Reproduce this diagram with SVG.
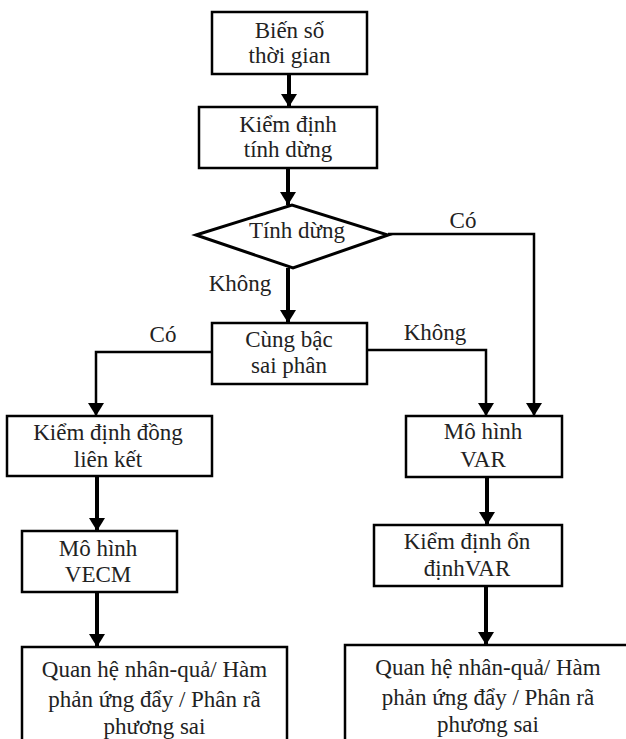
<svg xmlns="http://www.w3.org/2000/svg" width="626" height="739" viewBox="0 0 626 739">
<style>
.box{fill:#fff;stroke:#000;stroke-width:2.5}
.t{font-family:"Liberation Serif",Tinos,"Times New Roman","DejaVu Serif","Noto Serif",serif;font-size:23px;fill:#222;text-anchor:middle}
.c{fill:none;stroke:#000;stroke-width:4}
.c2{fill:none;stroke:#000;stroke-width:2.5}
</style>
<defs>
<marker id="ah" viewBox="0 -9 14 18" refX="13" refY="0" markerWidth="14" markerHeight="18" markerUnits="userSpaceOnUse" orient="auto">
<path d="M0,-8 L13,0 L0,8 z" fill="#000"/>
</marker>
</defs>
<rect width="626" height="739" fill="#fff"/>
<g id="connectors">
<path class="c" d="M289,74 V107" marker-end="url(#ah)"/>
<path class="c" d="M288,168 V205" marker-end="url(#ah)"/>
<path class="c" d="M288,268 V323" marker-end="url(#ah)"/>
<path class="c2" d="M388,234 H534 V416" marker-end="url(#ah)"/>
<path class="c2" d="M367,350 H486 V416" marker-end="url(#ah)"/>
<path class="c2" d="M212,352 H96 V416" marker-end="url(#ah)"/>
<path class="c" d="M97,476 V531" marker-end="url(#ah)"/>
<path class="c" d="M487,477 V525" marker-end="url(#ah)"/>
<path class="c" d="M97,592 V647" marker-end="url(#ah)"/>
<path class="c" d="M486,586 V645" marker-end="url(#ah)"/>
<text class="t" x="240" y="291" font-family="Liberation Serif, serif">Không</text>
<text class="t" x="463" y="228">Có</text>
<text class="t" x="435" y="340">Không</text>
<text class="t" x="163" y="342">Có</text>
</g>
<g id="n1"><rect class="box" x="212" y="12" width="155" height="62"/>
<text class="t" x="289.5" y="38">Biến số</text><text class="t" x="289.5" y="63">thời gian</text></g>
<g id="n2"><rect class="box" x="199" y="107" width="178" height="61"/>
<text class="t" x="288" y="132">Kiểm định</text><text class="t" x="288" y="157">tính dừng</text></g>
<g id="n3"><polygon points="196,235 292,205 388,235 293,268" fill="#fff" stroke="#000" stroke-width="3"/>
<text class="t" x="297" y="238">Tính dừng</text></g>
<g id="n4"><rect class="box" x="212" y="323" width="155" height="61"/>
<text class="t" x="289" y="347">Cùng bậc</text><text class="t" x="289" y="373">sai phân</text></g>
<g id="n5"><rect class="box" x="7" y="416" width="205" height="60"/>
<text class="t" x="108" y="440">Kiểm định đồng</text><text class="t" x="108" y="467">liên kết</text></g>
<g id="n6"><rect class="box" x="406" y="416" width="156" height="61"/>
<text class="t" x="483" y="439">Mô hình</text><text class="t" x="483" y="467">VAR</text></g>
<g id="n7"><rect class="box" x="22" y="531" width="155" height="61"/>
<text class="t" x="98" y="556">Mô hình</text><text class="t" x="98" y="582">VECM</text></g>
<g id="n8"><rect class="box" x="374" y="525" width="188" height="61"/>
<text class="t" x="467" y="549">Kiểm định ổn</text><text class="t" x="467" y="576">địnhVAR</text></g>
<g id="n9"><rect class="box" x="22" y="647" width="265" height="110"/>
<text class="t" x="154.5" y="677">Quan hệ nhân-quả/ Hàm</text><text class="t" x="154.5" y="707">phản ứng đẩy / Phân rã</text><text class="t" x="154.5" y="734">phương sai</text></g>
<g id="n10"><rect class="box" x="345" y="645" width="286" height="110"/>
<text class="t" x="488" y="675">Quan hệ nhân-quả/ Hàm</text><text class="t" x="488" y="705">phản ứng đẩy / Phân rã</text><text class="t" x="488" y="732">phương sai</text></g>
</svg>
